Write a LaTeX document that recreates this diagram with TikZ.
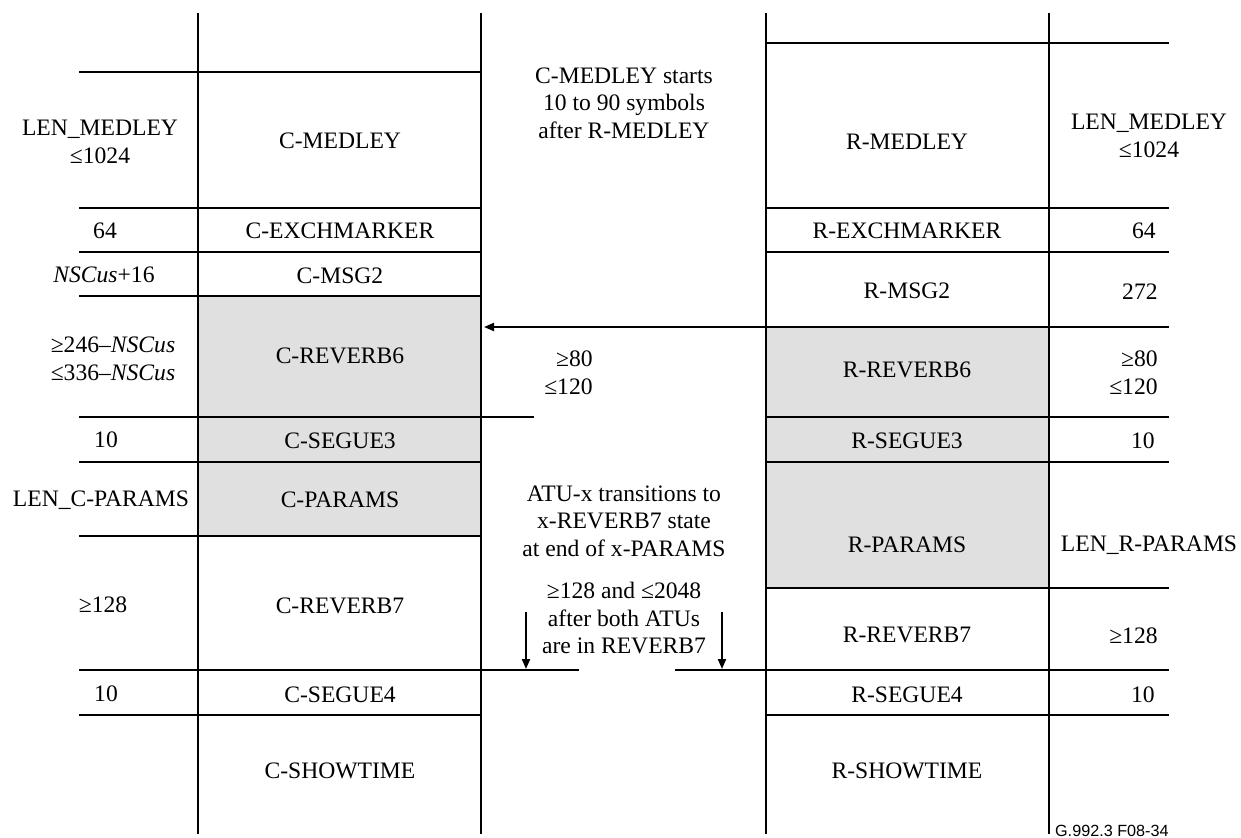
\documentclass[tikz,border=0pt]{standalone}
\usepackage{fontspec}
\setmainfont{Liberation Serif}
\newfontfamily\figsans{Liberation Sans}
\usepackage{tikz}
\usetikzlibrary{arrows.meta}
\tikzstyle{txt}=[inner sep=0pt, align=center, font=\fontsize{11.8}{13.8}\selectfont]
\tikzstyle{rule}=[line width=1pt]
\tikzstyle{shade}=[fill=black!12]
\tikzstyle{tip}=[-{Triangle[length=5pt,width=4pt]}]

\begin{document}
\begin{tikzpicture}[x=0.5pt,y=-0.5pt]
\useasboundingbox (0,0) rectangle (1241,837);
%\draw[help lines] (0,0) grid (1241,837);
\fill[shade] (198,296) rectangle (481,536);
\fill[shade] (766,327) rectangle (1049,588);
\foreach \x in {198,481,766,1049}
\draw[rule] (\x,13) -- (\x,834);
\foreach \y in {72,208,252,296,462,536,715}
\draw[rule] (79,\y) -- (481,\y);
\draw[rule] (79,417) -- (534,417);
\draw[rule] (79,670) -- (579,670);
\foreach \y in {43,208,252,327,417,462,588,715}
\draw[rule] (766,\y) -- (1169,\y);
\draw[rule] (675,670) -- (1169,670);
% ATU-C states
\node[txt] (cmedley) at (340,141) {C-MEDLEY};
\node[txt] (cexch) at (340,231) {C-EXCHMARKER};
\node[txt] (cmsg) at (340,276) {C-MSG2};
\node[txt] (crevsix) at (340,356) {C-REVERB6};
\node[txt] (csegthree) at (340,441) {C-SEGUE3};
\node[txt] (cparams) at (340,500) {C-PARAMS};
\node[txt] (crevseven) at (340,606) {C-REVERB7};
\node[txt] (csegfour) at (340,695) {C-SEGUE4};
\node[txt] (cshow) at (340,771) {C-SHOWTIME};
\node[txt] (lmedley) at (100,142) {LEN\_MEDLEY\\≤1024};
\node[txt] (lexch) at (105,231) {64};
\node[txt] (lmsg) at (104,275) {\textit{NSCus}+16};
\node[txt] (lrevsix) at (113,359) {≥246–\textit{NSCus}\\≤336–\textit{NSCus}};
\node[txt] (lsegthree) at (106,440) {10};
\node[txt] (lparams) at (101,500) {LEN\_C-PARAMS};
\node[txt] (lrevseven) at (103,605) {≥128};
\node[txt] (lsegfour) at (106,694) {10};
% ATU-R states
\node[txt] (rmedley) at (907,142) {R-MEDLEY};
\node[txt] (rexch) at (907,231) {R-EXCHMARKER};
\node[txt] (rmsg) at (907,291) {R-MSG2};
\node[txt] (rrevsix) at (907,370) {R-REVERB6};
\node[txt] (rsegthree) at (907,441) {R-SEGUE3};
\node[txt] (rparams) at (907,545) {R-PARAMS};
\node[txt] (rrevseven) at (907,635) {R-REVERB7};
\node[txt] (rsegfour) at (907,695) {R-SEGUE4};
\node[txt] (rshow) at (907,771) {R-SHOWTIME};
\node[txt] (nmedley) at (1149,136) {LEN\_MEDLEY\\≤1024};
\node[txt,anchor=east] (nexch) at (1156,231) {64};
\node[txt,anchor=east] (nmsg) at (1158,292) {272};
\node[txt,anchor=east,align=right] (nrevsix) at (1158,373) {≥80\\≤120};
\node[txt,anchor=east] (nsegthree) at (1155,441) {10};
\node[txt] (nparams) at (1149,545) {LEN\_R-PARAMS};
\node[txt,anchor=east] (nrevseven) at (1158,636) {≥128};
\node[txt,anchor=east] (nsegfour) at (1155,695) {10};
% notes between the two ATUs
\node[txt] (start) at (624,103) {C-MEDLEY starts\\10 to 90 symbols\\after R-MEDLEY};
\node[txt,anchor=east,align=right] (gap) at (593,373) {≥80\\≤120};
\node[txt] (trans) at (624,521) {ATU-x transitions to\\x-REVERB7 state\\at end of x-PARAMS};
\node[txt] (both) at (624,618) {≥128 and ≤2048\\after both ATUs\\are in REVERB7};
\coordinate (rsix) at (766,327);
\coordinate (csix) at (484,327);
\draw[rule,tip] (rsix) -- (csix);
\coordinate (ca) at (526,612);
\coordinate (cb) at (526,669);
\coordinate (ra) at (722,612);
\coordinate (rb) at (722,669);
\draw[rule,tip] (ca) -- (cb);
\draw[rule,tip] (ra) -- (rb);
\node[inner sep=0pt,anchor=south east,font=\figsans\fontsize{8.1}{10}\selectfont] (fig) at (1169,837) {G.992.3 F08-34};
\end{tikzpicture}
\end{document}
